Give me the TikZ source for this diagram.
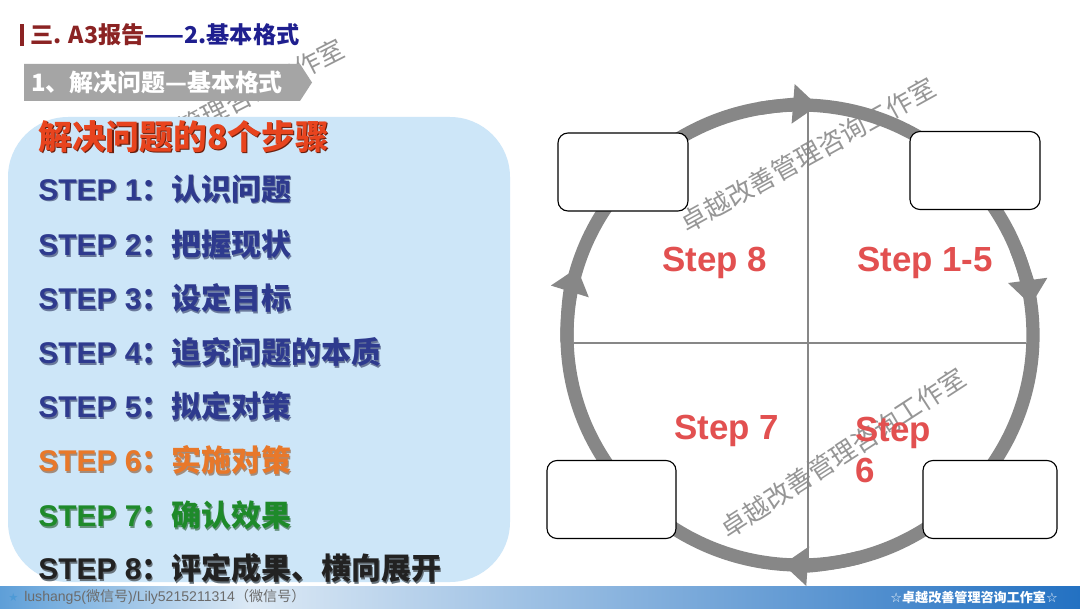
\documentclass[tikz,border=0pt]{standalone}
\usepackage{fontspec}
\setmainfont{Liberation Sans}
\newfontfamily\cjk{Noto Sans CJK SC}
\newfontfamily\dejavu{DejaVu Sans}
\usetikzlibrary{arrows.meta,calc}
\definecolor{titlered}{HTML}{8B2323}
\definecolor{titleblue}{HTML}{1F1F8F}
\definecolor{bannergray}{HTML}{A5A5A5}
\definecolor{boxblue}{HTML}{CDE6F8}
\definecolor{headred}{HTML}{E8441E}
\definecolor{stepblue}{HTML}{2E3A8E}
\definecolor{steporange}{HTML}{E8782A}
\definecolor{stepgreen}{HTML}{1E8A2A}
\definecolor{stepblack}{HTML}{222222}
\definecolor{ringgray}{HTML}{878787}
\definecolor{labelred}{HTML}{E25050}
\definecolor{wmgray}{HTML}{969696}
\definecolor{footA}{HTML}{5E9FD8}
\definecolor{footB}{HTML}{DCE9F5}
\definecolor{footC}{HTML}{2371C2}
\definecolor{foottext}{HTML}{6B6B6B}
\definecolor{starblue}{HTML}{4D9AD6}
\newcommand\shadowed[2]{\makebox[0pt][l]{\hspace{0.9pt}\raisebox{-0.9pt}{\textcolor{#1}{#2}}}#2}
\begin{document}
\begin{tikzpicture}[x=0.025cm,y=0.025cm,
  stepbox/.style={draw=black, line width=0.8pt, fill=white, rounded corners=0.25cm, minimum width=3.25cm, minimum height=1.95cm, inner sep=0pt},
  ring/.style={draw=ringgray, line width=0.33cm},
  ringarrow/.style={draw=ringgray, line width=0.33cm, -{Triangle[width=0.95cm,length=0.62cm]}},
  cross/.style={draw=ringgray, line width=1.3pt},
  steplabel/.style={text=labelred, font=\fontsize{24.8}{29}\selectfont\bfseries, inner sep=0pt},
  watermark/.style={text=wmgray, font=\cjk\fontsize{18.5}{20}\selectfont, inner sep=0pt},
  steptext/.style={anchor=west, inner sep=0pt, font=\fontsize{21.3}{25}\selectfont\bfseries},
]
\useasboundingbox (0,0) rectangle (1080,608);
\fill[white] (0,0) rectangle (1080,608);

% watermarks (underneath everything)
\node[watermark, rotate=27] (wm1) at (215,496) {卓越改善管理咨询工作室};
\node[watermark, rotate=29] (wm2) at (808,453) {卓越改善管理咨询工作室};
\node[watermark, rotate=33] (wm3) at (843,155) {卓越改善管理咨询工作室};

% title
\fill[titlered] (20,584) rectangle (24,562);
\node[anchor=west, inner sep=0pt, font=\cjk\fontsize{16.5}{18}\selectfont\bfseries] (title) at (30,573)
  {\textcolor{titlered}{三. A3报告}\textcolor{titleblue}{——2.基本格式}};

% banner
\fill[bannergray] (24,544) -- (300,544) -- (312,525.5) -- (300,507) -- (24,507) -- cycle;
\node[anchor=west, inner sep=0pt, text=white, font=\cjk\fontsize{17}{19}\selectfont\bfseries] (banner) at (31,525.5)
  {1、解决问题—基本格式};

% blue panel
\fill[boxblue, rounded corners=1.5cm] (8,491) rectangle (510,26);

% heading
\node[anchor=west, inner sep=0pt, text=headred, font=\cjk\fontsize{24}{26}\selectfont\bfseries] (head) at (38,471)
  {\shadowed{headred!45!black}{解决问题的8个步骤}};

% steps
\foreach \yy/\cc/\nn/\tt in {418/stepblue/1/认识问题, 363/stepblue/2/把握现状, 309/stepblue/3/设定目标, 255/stepblue/4/追究问题的本质, 201/stepblue/5/拟定对策, 147/steporange/6/实施对策, 92/stepgreen/7/确认效果, 39/stepblack/8/评定成果、横向展开}{
  \node[steptext, text=\cc] (step\nn) at (38,\yy) {\shadowed{\cc!55!black!55!boxblue}{STEP \nn{\cjk ：\tt}}};
}

% footer
\shade[left color=footA, right color=footB] (0,0) rectangle (250,22);
\shade[left color=footB, right color=footC] (250,0) rectangle (1080,22);
\node[anchor=west, inner sep=0pt, text=starblue, font=\dejavu\fontsize{8}{9}\selectfont] (fstar) at (8,11) {★};
\node[anchor=west, inner sep=0pt, text=foottext, font=\fontsize{10}{11}\selectfont] (fleft) at (24,11)
  {lushang5({\cjk 微信号})/Lily5215211314{\cjk （微信号）}};
\node[anchor=east, inner sep=0pt, text=white, font=\fontsize{9.3}{10}\selectfont] (fright) at (1058,11)
  {{\dejavu ☆}{\cjk\bfseries 卓越改善管理咨询工作室}{\dejavu ☆}};

% cycle
\draw[ring] (800,273) ellipse[x radius=233, y radius=230];
\draw[ringarrow] (800,273) ++(100:233 and 230) arc[start angle=100, end angle=85.6, x radius=233, y radius=230];
\draw[ringarrow] (800,273) ++(22:233 and 230) arc[start angle=22, end angle=7.5, x radius=233, y radius=230];
\draw[ringarrow] (800,273) ++(-75:233 and 230) arc[start angle=-75, end angle=-94.2, x radius=233, y radius=230];
\draw[ringarrow] (800,273) ++(182:233 and 230) arc[start angle=182, end angle=163, x radius=233, y radius=230];

\coordinate (vtop) at (808,497);
\coordinate (vbot) at (808,50);
\coordinate (hleft) at (574,265);
\coordinate (hright) at (1026,265);
\draw[cross] (vtop) -- (vbot);
\draw[cross] (hleft) -- (hright);

\node[stepbox] (boxtl) at (623,436) {};
\node[stepbox] (boxtr) at (975,437.5) {};
\node[stepbox, minimum width=3.225cm] (boxbl) at (611.5,108.5) {};
\node[stepbox, minimum width=3.35cm] (boxbr) at (990,108.5) {};

% labels
\node[steplabel] (l8) at (715,345) {Step 8};
\node[steplabel] (l15) at (925,345) {Step 1-5};
\node[steplabel] (l7) at (727,177) {Step 7};
\node[steplabel, anchor=west, align=left] (l6) at (855,158) {Step\\6};
\end{tikzpicture}
\end{document}
